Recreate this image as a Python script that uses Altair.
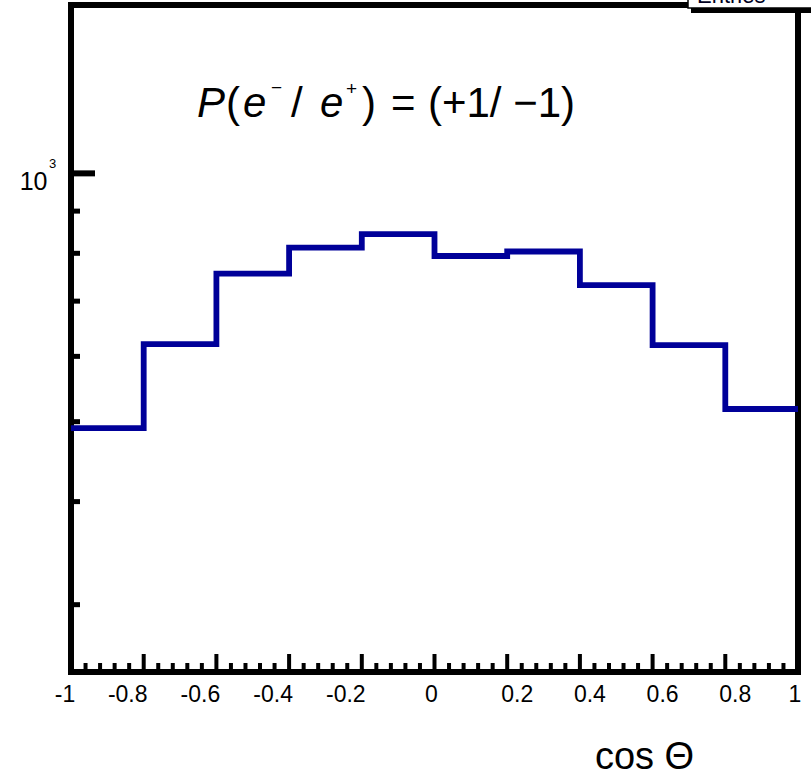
import altair as alt
import pandas as pd

# ---- data ----
bin_lo = [-1.0, -0.8, -0.6, -0.4, -0.2, 0.0, 0.2, 0.4, 0.6, 0.8]
bin_hi_last = 1.0
counts = [491, 621, 756, 813, 844, 794, 804, 732, 619, 518]

x_major = [-1.0, -0.8, -0.6, -0.4, -0.2, 0.0, 0.2, 0.4, 0.6, 0.8, 1.0]
x_labels = ["-1", "-0.8", "-0.6", "-0.4", "-0.2", "0", "0.2", "0.4", "0.6", "0.8", "1"]
y_major = [1000]
y_minor = [300, 400, 500, 600, 700, 800, 900]

W, H = 727, 667
FONT = "Liberation Sans"

x_minor = []
for a, b in zip(x_major[:-1], x_major[1:]):
    for k in range(1, 5):
        x_minor.append(round(a + (b - a) * k / 5, 3))

hist = pd.DataFrame({"x": bin_lo + [bin_hi_last], "y": counts + [counts[-1]]})
xlab = pd.DataFrame({"v": x_major, "t": x_labels})

xs = alt.Scale(domain=[-1, 1], nice=False, zero=False)
ys = alt.Scale(type="log", domain=[248.6, 1600], nice=False)

XAX = alt.Axis(
    values=x_major, labels=False, ticks=False, domain=False, grid=False,
    title="cos Θ", titleFont=FONT, titleFontSize=38, titleFontWeight="normal",
    titleColor="black", titleX=573, titleY=96, titleAlign="center",
    titleBaseline="alphabetic")
YAX = alt.Axis(
    values=y_major, labelExpr="'10'", labelFont=FONT, labelFontSize=25,
    labelColor="black", ticks=False, domain=False, grid=False,
    labelPadding=24, labelOffset=8, labelBaseline="middle", title=None)

line = alt.Chart(hist).mark_line(
    interpolate="step-after", color="#000099", strokeWidth=5.8, strokeJoin="miter"
).encode(
    x=alt.X("x:Q", scale=xs, axis=XAX),
    y=alt.Y("y:Q", scale=ys, axis=YAX),
)

xmaj = alt.Chart(pd.DataFrame({"v": x_major})).mark_rule(
    color="black", strokeWidth=4).encode(
    x=alt.X("v:Q", scale=xs, axis=XAX), y=alt.value(H), y2=alt.value(H - 18))
xmin = alt.Chart(pd.DataFrame({"v": x_minor})).mark_rule(
    color="black", strokeWidth=4).encode(
    x=alt.X("v:Q", scale=xs, axis=XAX), y=alt.value(H), y2=alt.value(H - 9))
ymaj = alt.Chart(pd.DataFrame({"v": y_major})).mark_rule(
    color="black", strokeWidth=6).encode(
    y=alt.Y("v:Q", scale=ys, axis=YAX), x=alt.value(0), x2=alt.value(24))
ymin = alt.Chart(pd.DataFrame({"v": y_minor})).mark_rule(
    color="black", strokeWidth=5).encode(
    y=alt.Y("v:Q", scale=ys, axis=YAX), x=alt.value(0), x2=alt.value(9))


def xlabels(cond, dx):
    return alt.Chart(xlab).transform_filter(cond).mark_text(
        align="center", baseline="alphabetic", font=FONT, fontSize=23,
        color="black", dx=dx).encode(
        x=alt.X("v:Q", scale=xs, axis=XAX), y=alt.value(H + 30), text="t:N")


xl = [
    xlabels("datum.v < -0.9", -6),
    xlabels("datum.v > -0.9 && datum.v < -0.1", -16),
    xlabels("datum.v > -0.1 && datum.v < 0.1", -3),
    xlabels("datum.v > 0.1 && datum.v < 0.9", 10),
    xlabels("datum.v > 0.9", -3),
]

sup3 = alt.Chart(pd.DataFrame({"v": y_major, "t": ["3"]})).mark_text(
    align="left", baseline="alphabetic", font=FONT, fontSize=13, dy=-5,
    color="black").encode(
    y=alt.Y("v:Q", scale=ys, axis=YAX), x=alt.value(-22), text="t:N")

one = pd.DataFrame({"a": [0]})


def txt(s, x, y, size=42, style="normal"):
    return alt.Chart(one).mark_text(
        text=s, align="left", baseline="alphabetic", font=FONT, fontSize=size,
        fontStyle=style, color="black").encode(x=alt.value(x), y=alt.value(y))


BASE = 112
annot = [
    txt("P", 126, BASE, style="italic"),
    txt("(", 155, BASE),
    txt("e", 172, BASE, style="italic"),
    txt("−", 200, 89, size=19),
    txt("/", 220, BASE),
    txt("e", 249, BASE, style="italic"),
    txt("+", 275, 90, size=19),
    txt(")", 291, BASE),
    txt("=", 320, BASE),
    txt("(+1/ −1)", 357, BASE),
]

# cropped "Entries" stats box in the top-right corner
shadow = alt.Chart(one).mark_rect(color="black").encode(
    x=alt.value(620), x2=alt.value(770), y=alt.value(-30), y2=alt.value(8))
box = alt.Chart(one).mark_rect(fill="white", stroke="black", strokeWidth=1.5).encode(
    x=alt.value(617), x2=alt.value(765), y=alt.value(-30), y2=alt.value(3))
entries = alt.Chart(one).mark_text(
    text="Entries", align="left", baseline="alphabetic", font=FONT, fontSize=22,
    color="#000022").encode(x=alt.value(626), y=alt.value(-2))

chart = alt.layer(
    line, xmaj, xmin, ymaj, ymin, *xl, sup3, *annot, shadow, box, entries
).properties(
    width=W, height=H,
    padding={"left": 71, "top": 5, "right": 13, "bottom": 104},
    autosize=alt.AutoSizeParams(type="none"),
    background="white",
).configure_view(stroke="black", strokeWidth=6)

chart.save("out.html", embed_options={"renderer": "svg", "actions": False})
